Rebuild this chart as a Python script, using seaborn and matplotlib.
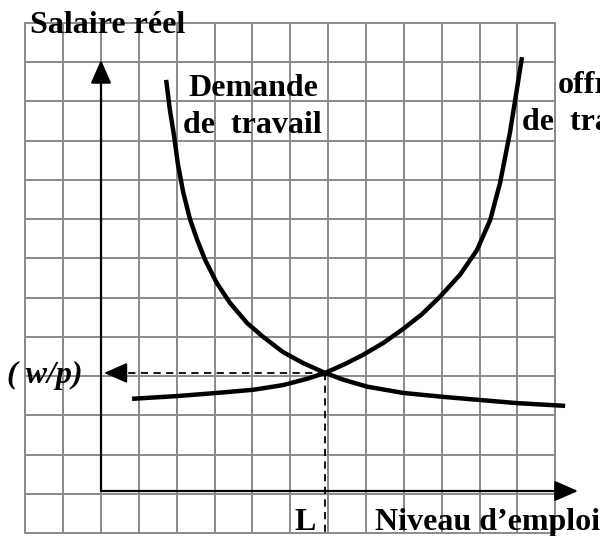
import matplotlib
matplotlib.use("Agg")
import matplotlib.pyplot as plt
import seaborn as sns
import pandas as pd

# ---- data (grid units, origin at the axes intersection) ----
demand_x = [1.72, 1.82, 1.93, 2.03, 2.17, 2.35, 2.54, 2.75, 3.06, 3.41, 3.86, 4.28,
            4.81, 5.34, 5.92, 6.39, 7.03, 7.98, 9.03, 10.01, 10.99, 12.26]
demand_y = [10.48, 9.71, 9.05, 8.34, 7.62, 6.93, 6.40, 5.89, 5.30, 4.79, 4.28, 3.93,
            3.54, 3.26, 3.01, 2.84, 2.66, 2.50, 2.40, 2.32, 2.24, 2.17]
supply_x = [0.82, 2.01, 3.06, 4.02, 4.81, 5.44, 5.92, 6.45, 6.92, 7.45, 7.98, 8.48,
            8.95, 9.48, 9.93, 10.28, 10.54, 10.80, 10.96, 11.12]
supply_y = [2.35, 2.42, 2.50, 2.58, 2.70, 2.86, 3.01, 3.24, 3.47, 3.77, 4.13, 4.51,
            4.95, 5.51, 6.14, 6.91, 7.85, 9.13, 10.09, 11.06]
equilibrium = (5.92, 3.01)

y_title = "Salaire réel"
x_title = "Niveau d\u2019emploi"
demand_label = ["Demande", "de  travail"]
supply_label = ["offre", "de  travail"]
eq_y_label = "( w/p)"
eq_x_label = "L"

demand = pd.DataFrame({"emploi": demand_x, "salaire": demand_y})
supply = pd.DataFrame({"emploi": supply_x, "salaire": supply_y})

sns.set_theme(style="white")
plt.rcParams["font.family"] = ["Liberation Serif", "DejaVu Serif"]

fig = plt.figure(figsize=(6, 5.36), dpi=100)
ax = fig.add_axes([0, 0, 1, 1])

# background grid
gx0, gy0 = -2.0, -1.07
gcol = "#8a8a8a"
for k in range(15):
    ax.plot([gx0 + k, gx0 + k], [gy0, gy0 + 13], color=gcol, lw=1.4, zorder=1)
for k in range(14):
    ax.plot([gx0, gx0 + 14], [gy0 + k, gy0 + k], color=gcol, lw=1.4, zorder=1)

# axes with arrows
arrow_kw = dict(arrowstyle="-|>,head_length=0.8,head_width=0.35", color="black",
                lw=1.6, shrinkA=0, shrinkB=0, mutation_scale=18)
ax.annotate("", xy=(0, 10.99), xytext=(0, 0), arrowprops=arrow_kw, zorder=3)
ax.annotate("", xy=(12.6, 0), xytext=(0, 0), arrowprops=arrow_kw, zorder=3)

# curves
for df in (demand, supply):
    sns.lineplot(data=df, x="emploi", y="salaire", sort=False, estimator=None,
                 color="black", lw=3.2, ax=ax, zorder=4,
                 solid_joinstyle="round", solid_capstyle="butt")

ax.set_xlim(-2.668, 13.18)
ax.set_ylim(-1.147, 12.516)
ax.set_axis_off()

# equilibrium dashed guides
ex, ey = equilibrium
ax.plot([ex, 0.6], [ey, ey], color="black", lw=1.3, ls=(0, (4, 3)), zorder=3)
ax.plot([ex, ex], [ey, -1.2], color="black", lw=1.3, ls=(0, (4, 3)), zorder=3)
ax.annotate("", xy=(0.08, ey), xytext=(0.65, ey),
            arrowprops=dict(arrowstyle="-|>,head_length=0.8,head_width=0.35",
                            color="black", lw=1.3, shrinkA=0, shrinkB=0,
                            mutation_scale=18), zorder=3)

# texts
tkw = dict(fontsize=23, fontweight="bold", color="black", va="baseline", ha="left", zorder=5)
ax.text(-1.875, 11.67, y_title, **tkw)
ax.text(2.30, 10.07, demand_label[0], **tkw)
ax.text(2.17, 9.13, demand_label[1], **tkw)
ax.text(12.07, 10.15, supply_label[0], clip_on=False, **tkw)
ax.text(11.12, 9.20, supply_label[1], clip_on=False, **tkw)
ax.text(-2.48, 2.75, eq_y_label, fontstyle="italic", **tkw)
ax.text(5.12, -0.99, eq_x_label, **tkw)
ax.text(7.24, -0.99, x_title, **tkw)

fig.savefig("out.png", dpi=100)
